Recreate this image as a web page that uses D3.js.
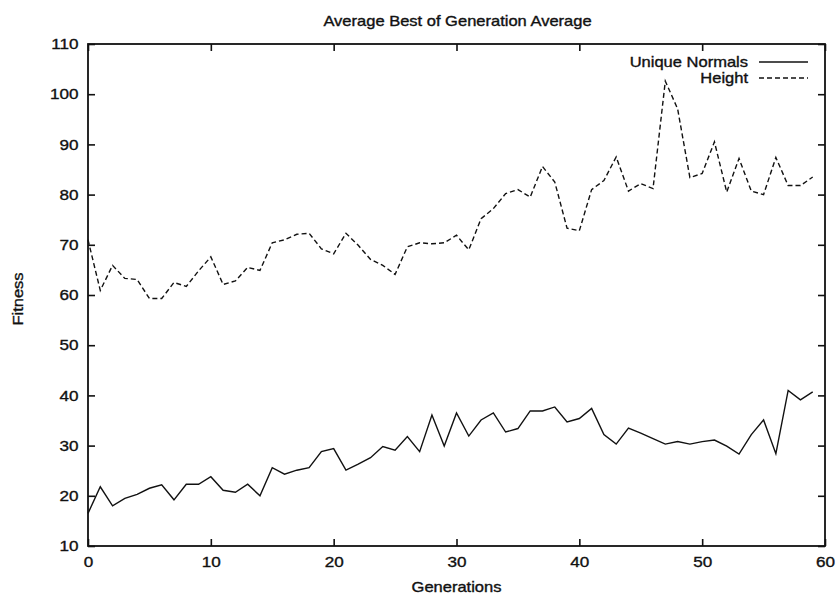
<!DOCTYPE html>
<html>
<head>
<meta charset="utf-8">
<script src="https://cdn.jsdelivr.net/npm/d3@7"></script>
<style>
  body { margin: 0; background: #fff; }
  svg text { font-family: 'Liberation Sans', Arial, Helvetica, sans-serif; fill: #111; stroke: #111; stroke-width: 0.35px; }
</style>
</head>
<body>
<svg id="chart" width="840" height="600"></svg>
<script>
// data
const generations = d3.range(0, 60);
const uniqueNormals = [16.5, 21.8, 18.0, 19.5, 20.3, 21.5, 22.2, 19.2, 22.3, 22.3,
  23.8, 21.1, 20.7, 22.3, 20.0, 25.6, 24.3, 25.1, 25.6, 28.8,
  29.4, 25.1, 26.3, 27.6, 29.8, 29.1, 31.8, 28.8, 36.1, 29.9,
  36.5, 31.9, 35.1, 36.5, 32.7, 33.4, 36.9, 36.9, 37.7, 34.7,
  35.4, 37.4, 32.2, 30.3, 33.5, 32.5, 31.4, 30.3, 30.8, 30.3,
  30.8, 31.1, 29.9, 28.3, 32.2, 35.1, 28.4, 41.0, 39.1, 40.7];
const height = [71.0, 60.9, 65.9, 63.3, 63.1, 59.3, 59.3, 62.5, 61.7, 64.8,
  67.6, 62.1, 62.8, 65.5, 64.9, 70.4, 71.0, 72.1, 72.3, 69.2,
  68.2, 72.3, 69.9, 67.1, 65.9, 64.1, 69.6, 70.4, 70.2, 70.4,
  71.9, 69.0, 75.2, 77.2, 80.2, 81.0, 79.5, 85.6, 82.5, 73.3,
  72.8, 81.0, 82.8, 87.5, 80.7, 82.2, 81.2, 102.6, 97.1, 83.4,
  84.2, 90.5, 80.5, 87.2, 80.7, 80.0, 87.4, 81.8, 81.8, 83.5];
const xTicks = [0, 10, 20, 30, 40, 50, 60];
const yTicks = [10, 20, 30, 40, 50, 60, 70, 80, 90, 100, 110];
const seriesNames = ['Unique Normals', 'Height'];

const margin = {left: 88, right: 15, top: 44, bottom: 54};
const W = 840, H = 600;
const stretch = 1.18; // the scanned text is wider than the plain font
const svg = d3.select('#chart');

const sx = d3.scaleLinear().domain([0, 60]).range([margin.left, W - margin.right]);
const sy = d3.scaleLinear().domain([10, 110]).range([H - margin.bottom, margin.top]);

const tickLen = 7;

// axes with inward ticks on all four sides
const axisBottomG = svg.append('g')
  .attr('transform', `translate(0,${sy(10)})`)
  .call(d3.axisBottom(sx).tickValues(xTicks).tickSizeInner(-tickLen).tickSizeOuter(0).tickPadding(11));
const axisTopG = svg.append('g')
  .attr('transform', `translate(0,${sy(110)})`)
  .call(d3.axisTop(sx).tickValues(xTicks).tickSizeInner(-tickLen).tickSizeOuter(0).tickFormat(''));
const axisLeftG = svg.append('g')
  .attr('transform', `translate(${sx(0)},0)`)
  .call(d3.axisLeft(sy).tickValues(yTicks).tickSizeInner(-tickLen).tickSizeOuter(0).tickPadding(8));
const axisRightG = svg.append('g')
  .attr('transform', `translate(${sx(60)},0)`)
  .call(d3.axisRight(sy).tickValues(yTicks).tickSizeInner(-tickLen).tickSizeOuter(0).tickFormat(''));

[axisBottomG, axisTopG, axisLeftG, axisRightG].forEach(g => {
  g.select('.domain').remove();
  g.selectAll('.tick line').attr('stroke', '#111').attr('stroke-width', 1.6);
  g.selectAll('.tick text')
    .style('font-size', '14.5px').attr('fill', '#111')
    .attr('transform', `scale(${stretch},1)`);
});
axisBottomG.selectAll('.tick text').attr('dy', '0.71em');

// frame
svg.append('rect')
  .attr('x', sx(0)).attr('y', sy(110))
  .attr('width', sx(60) - sx(0)).attr('height', sy(10) - sy(110))
  .attr('fill', 'none').attr('stroke', '#111').attr('stroke-width', 1.8);

const line = d3.line()
  .x((d, i) => sx(generations[i]))
  .y(d => sy(d));

svg.append('path')
  .datum(uniqueNormals)
  .attr('d', line)
  .attr('fill', 'none').attr('stroke', '#111').attr('stroke-width', 1.4)
  .attr('stroke-linejoin', 'miter');

svg.append('path')
  .datum(height)
  .attr('d', line)
  .attr('fill', 'none').attr('stroke', '#111').attr('stroke-width', 1.4)
  .attr('stroke-dasharray', '5,3');

function label(x, y, txt, size, anchor, rotate) {
  return svg.append('text')
    .attr('transform', `translate(${x},${y})${rotate ? ' rotate(-90)' : ''} scale(${stretch},1)`)
    .attr('text-anchor', anchor)
    .style('font-size', size + 'px')
    .text(txt);
}

// legend
seriesNames.forEach((name, i) => {
  const ly = 62 + i * 16;
  label(748, ly + 5, name, 14, 'end', false);
  svg.append('line')
    .attr('x1', 759).attr('x2', 808).attr('y1', ly).attr('y2', ly)
    .attr('stroke', '#111').attr('stroke-width', 1.4)
    .attr('stroke-dasharray', i === 1 ? '5,3' : null);
});

// titles
const midX = (sx(0) + sx(60)) / 2;
label(midX + 1, 26, 'Average Best of Generation Average', 14, 'middle', false);
label(midX, 592, 'Generations', 14, 'middle', false);
label(23, 299, 'Fitness', 14, 'middle', true);
</script>
</body>
</html>
